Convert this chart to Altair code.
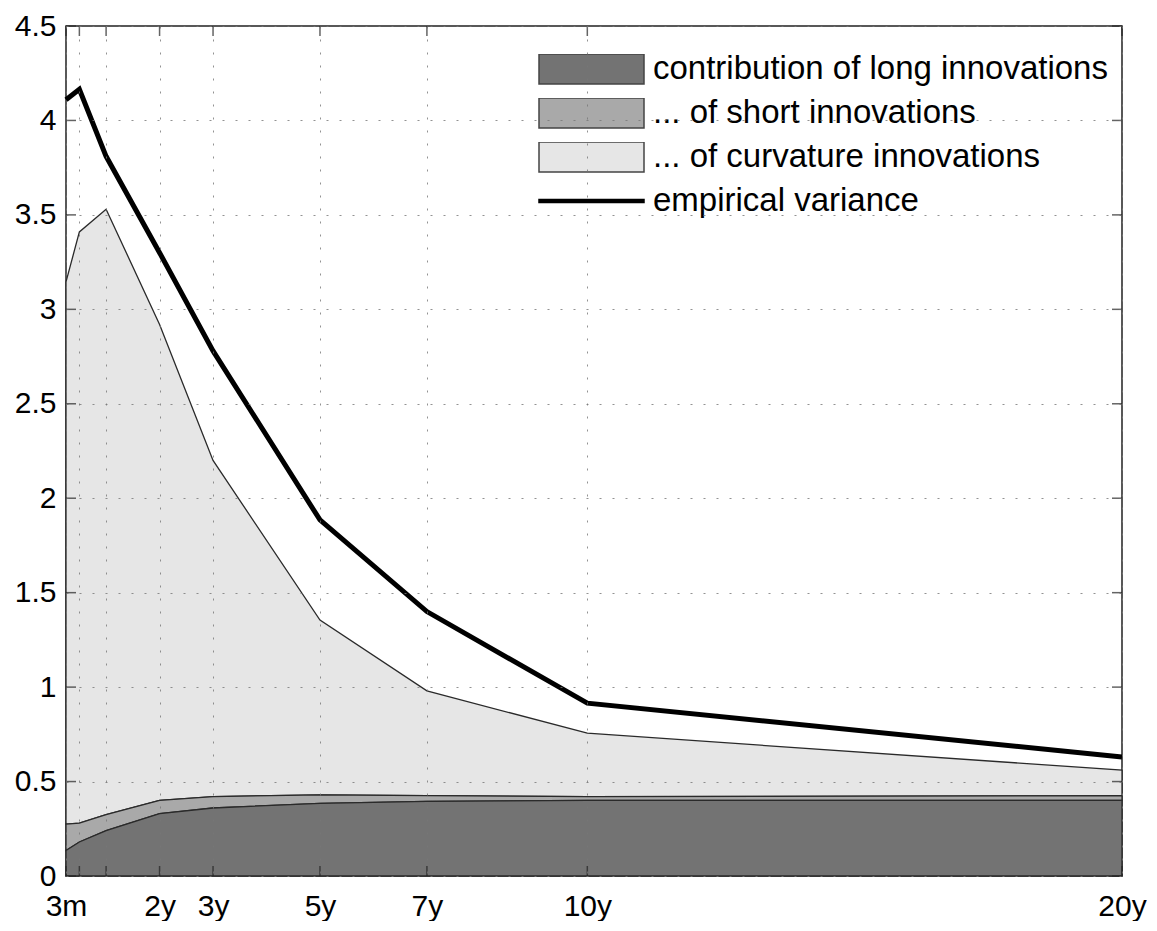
import altair as alt
import pandas as pd

# ---- data ----
maturity = [0.25, 0.5, 1, 2, 3, 5, 7, 10, 20]
long_contrib = [0.135, 0.18, 0.24, 0.33, 0.36, 0.385, 0.395, 0.40, 0.40]
short_contrib = [0.14, 0.10, 0.085, 0.07, 0.06, 0.045, 0.03, 0.02, 0.025]
curv_contrib = [2.87, 3.13, 3.205, 2.52, 1.78, 0.925, 0.555, 0.336, 0.135]
empirical = [4.11, 4.165, 3.81, 3.30, 2.78, 1.885, 1.40, 0.915, 0.63]

x_ticks = [0.25, 0.5, 1, 2, 3, 5, 7, 10, 20]
x_tick_labels = ["3m", "", "", "2y", "3y", "5y", "7y", "10y", "20y"]
y_ticks = [0, 0.5, 1, 1.5, 2, 2.5, 3, 3.5, 4, 4.5]

legend_labels = [
    "contribution of long innovations",
    "... of short innovations",
    "... of curvature innovations",
    "empirical variance",
]
legend_fills = ["#737373", "#a9a9a9", "#e6e6e6", "#000000"]
legend_strokes = ["#444444", "#444444", "#444444", "#000000"]
rect_path = "M-1,-0.2857H1V0.2857H-1Z"
line_path = "M-1,-0.03H1V0.03H-1Z"
legend_shapes = [rect_path, rect_path, rect_path, line_path]

W, H = 1056, 850
FONT = "Liberation Sans"

df = pd.DataFrame({
    "m": maturity,
    "long": long_contrib,
    "short": short_contrib,
    "curv": curv_contrib,
    "emp": empirical,
})
df["lo0"] = 0.0
df["lo1"] = df["long"]
df["lo2"] = df["lo1"] + df["short"]
df["lo3"] = df["lo2"] + df["curv"]

xscale = alt.Scale(domain=[0.25, 20], nice=False, zero=False)
yscale = alt.Scale(domain=[0, 4.5], nice=False, zero=False)

label_expr = "''"
for v, lab in zip(reversed(x_ticks), reversed(x_tick_labels)):
    label_expr = f"(abs(datum.value - {v}) < 1e-6 ? '{lab}' : {label_expr})"

grid_common = dict(
    grid=True, gridColor="#777777", gridDash=[2, 11], gridWidth=1, gridOpacity=0.8,
    ticks=False, domain=False, labelFont=FONT, labelFontSize=30, labelColor="black",
    labelFlush=False, labelOverlap=False, title=None, zindex=1,
)

x_axis = alt.Axis(values=x_ticks, labelExpr=label_expr, labelPadding=15, **grid_common)
y_axis = alt.Axis(values=y_ticks, labelExpr="format(datum.value, '~g')", labelPadding=10, **grid_common)

base = alt.Chart(df)
edge = dict(stroke="#2a2a2a", strokeWidth=1.3)

area_curv = base.mark_area(fill="#e6e6e6", **edge).encode(
    x=alt.X("m:Q", scale=xscale, axis=x_axis),
    y=alt.Y("lo3:Q", scale=yscale, axis=y_axis),
    y2="lo2:Q",
)
area_short = base.mark_area(fill="#a9a9a9", **edge).encode(
    x=alt.X("m:Q", scale=xscale),
    y=alt.Y("lo2:Q", scale=yscale),
    y2="lo1:Q",
)
area_long = base.mark_area(fill="#737373", **edge).encode(
    x=alt.X("m:Q", scale=xscale),
    y=alt.Y("lo1:Q", scale=yscale),
    y2="lo0:Q",
)
emp_line = base.mark_line(color="black", strokeWidth=5).encode(
    x=alt.X("m:Q", scale=xscale),
    y=alt.Y("emp:Q", scale=yscale),
)

# inward ticks on all four sides
xt = pd.DataFrame({"t": x_ticks})
yt = pd.DataFrame({"t": y_ticks})
tick_style = dict(color="#222222", thickness=1.5, size=10)
ticks_bottom = alt.Chart(xt).mark_tick(**tick_style).encode(
    x=alt.X("t:Q", scale=xscale), y=alt.value(H - 5))
ticks_top = alt.Chart(xt).mark_tick(**tick_style).encode(
    x=alt.X("t:Q", scale=xscale), y=alt.value(5))
ticks_left = alt.Chart(yt).mark_tick(**tick_style).encode(
    y=alt.Y("t:Q", scale=yscale), x=alt.value(5))
ticks_right = alt.Chart(yt).mark_tick(**tick_style).encode(
    y=alt.Y("t:Q", scale=yscale), x=alt.value(W - 5))

# legend (built from an empty point layer so only the legend shows)
leg = alt.Legend(
    title=None, orient="none", legendX=472, legendY=28, symbolSize=11025,
    clipHeight=30, rowPadding=11, labelFont=FONT, labelFontSize=33,
    labelColor="black", labelOffset=8, labelLimit=800, symbolStrokeWidth=1.5,
    padding=0,
)
leg_df = pd.DataFrame({"series": legend_labels})
legend_layer = alt.Chart(leg_df).transform_filter("false").mark_point(
    filled=True, size=11025, opacity=1
).encode(
    x=alt.value(0),
    y=alt.value(0),
    fill=alt.Fill("series:N", scale=alt.Scale(domain=legend_labels, range=legend_fills), legend=leg),
    stroke=alt.Stroke("series:N", scale=alt.Scale(domain=legend_labels, range=legend_strokes), legend=leg),
    shape=alt.Shape("series:N", scale=alt.Scale(domain=legend_labels, range=legend_shapes), legend=leg),
)

chart = alt.layer(
    area_curv, area_short, area_long, emp_line,
    ticks_bottom, ticks_top, ticks_left, ticks_right, legend_layer,
).properties(
    width=W, height=H,
    padding={"left": 6, "top": 3, "right": 0, "bottom": 0},
    background="white",
).configure_view(
    stroke="#222222", strokeWidth=1.5
)

chart.save("out.html", embed_options={"renderer": "svg", "actions": False})
